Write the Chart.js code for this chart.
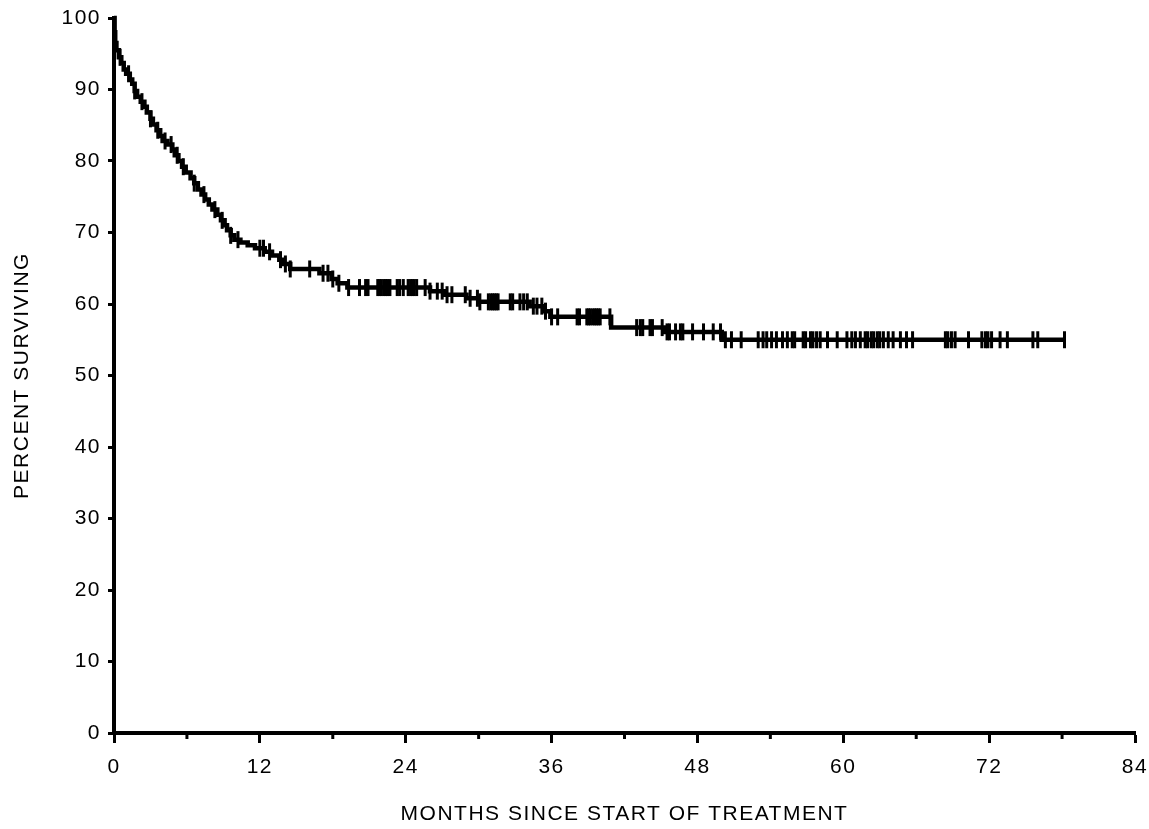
<!DOCTYPE html>
<html><head><meta charset="utf-8">
<script src="https://cdn.jsdelivr.net/npm/chart.js@4.4.1/dist/chart.umd.min.js"></script>
<style>html,body{margin:0;padding:0;background:#fff;}canvas{display:block;}</style>
</head><body>
<canvas id="c" width="1149" height="829"></canvas>
<script>
// Kaplan-Meier step data: month of each drop and survival (%) after it
const eventMonths = [0, 0.05, 0.1, 0.2, 0.4, 0.6, 0.8, 1.0, 1.3, 1.5, 1.7, 1.9, 2.2, 2.5, 2.7, 3.0, 3.2, 3.5, 3.8, 4.0,
  4.4, 4.8, 5.0, 5.3, 5.6, 5.9, 6.3, 6.6, 6.9, 7.2, 7.5, 7.8, 8.1, 8.5, 8.8, 9.1, 9.3, 9.6, 9.9, 10.4,
  11.0, 11.6, 12.4, 13.0, 13.6, 14.0, 14.5, 16.9, 17.9, 18.4, 19.2, 26.0, 27.2, 29.0, 30.0, 34.2, 35.4, 35.9,
  40.9, 45.3, 50.0];
const survivalPct = [100, 98, 96.5, 95.5, 94.5, 93.7, 92.8, 92.2, 91.4, 90.8, 89.8, 89.0, 88.3, 87.6, 86.8, 85.9, 85.1, 84.3, 83.5, 82.8,
  82.3, 81.6, 80.8, 80.0, 79.2, 78.4, 77.6, 76.9, 76.0, 75.3, 74.6, 73.9, 73.2, 72.5, 71.7, 71.0, 70.3, 69.6, 69.0, 68.6,
  68.2, 67.8, 67.3, 66.8, 66.2, 65.6, 64.9, 64.3, 63.5, 62.9, 62.3, 61.8, 61.3, 60.8, 60.3, 59.7, 59.0, 58.2,
  56.7, 56.1, 55.0];
const followUpEnd = 78.2;
// censored observations (months)
const censorMonths = [0.5, 1.2, 1.7, 2.3, 3.0, 3.6, 4.2, 4.7, 5.2, 5.7, 6.6, 7.4, 8.3, 8.9, 9.6, 10.2,
  12.0, 12.3, 12.8, 13.7, 14.1, 14.5, 16.1, 17.2, 17.6, 18.0, 18.5, 19.3, 20.2, 20.7, 20.9,
  21.7, 21.85, 22.0, 22.2, 22.35, 22.5, 22.7, 23.3, 23.5, 23.8, 24.2, 24.4, 24.55, 24.7, 24.9, 25.6, 26.0, 26.6, 27.0, 27.4, 27.8,
  28.9, 29.3, 29.9, 30.1, 30.8, 31.0, 31.15, 31.3, 31.45, 31.6, 32.6, 32.8, 33.4, 33.7, 34.0, 34.5, 34.8, 35.2, 35.5,
  36.0, 36.5, 38.1, 38.3, 38.9, 39.05, 39.2, 39.4, 39.55, 39.7, 39.85, 40.0, 40.8, 43.0, 43.3, 43.5, 44.1, 44.3, 45.1, 45.5, 45.7,
  46.2, 46.6, 46.8, 47.6, 48.5, 49.3, 49.9, 50.3, 50.8, 51.6, 53.0, 53.4, 53.7, 54.1, 54.5, 55.0, 55.4, 55.8,
  56.0, 56.7, 56.9, 57.3, 57.5, 57.8, 58.1, 58.7, 59.5, 60.3, 60.7, 61.0, 61.4, 61.8, 62.0, 62.3, 62.5, 62.8,
  63.0, 63.3, 63.7, 64.1, 64.7, 65.2, 65.7, 68.4, 68.6, 68.9, 69.2, 70.3, 71.4, 71.7, 71.9, 72.2, 72.9, 73.5,
  75.6, 76.0, 78.2];
const xMajorTicks = [0, 12, 24, 36, 48, 60, 72, 84];
const xMinorTicks = [6, 18, 30, 42, 54, 66, 78];
const yTicks = [0, 10, 20, 30, 40, 50, 60, 70, 80, 90, 100];
const xTitle = 'MONTHS SINCE START OF TREATMENT';
const yTitle = 'PERCENT SURVIVING';

function survivalAt(t) {
  let s = survivalPct[0];
  for (let i = 0; i < eventMonths.length; i++) if (eventMonths[i] <= t) s = survivalPct[i];
  return s;
}

const curvePoints = eventMonths.map((t, i) => ({x: t, y: survivalPct[i]}));
curvePoints.push({x: followUpEnd, y: survivalAt(followUpEnd)});
const censorPoints = censorMonths.map(t => ({x: t, y: survivalAt(t)}));

const FONT = {family: "'Liberation Sans', Arial, sans-serif", size: 21};

const spacingPlugin = {
  id: 'spacing',
  beforeUpdate(chart) { chart.ctx.letterSpacing = '1.5px'; },
  beforeDraw(chart) { chart.ctx.letterSpacing = '1.5px'; },
  afterDraw(chart) {
    const {ctx, scales: {x}} = chart;
    ctx.save();
    ctx.strokeStyle = '#000';
    ctx.lineWidth = 3;
    xMinorTicks.forEach(v => {
      const px = x.getPixelForValue(v);
      ctx.beginPath();
      ctx.moveTo(px, x.top);
      ctx.lineTo(px, x.top + 6);
      ctx.stroke();
    });
    ctx.restore();
  }
};

new Chart(document.getElementById('c'), {
  type: 'scatter',
  data: {
    datasets: [
      {data: curvePoints, showLine: true, stepped: true, borderColor: '#000', borderWidth: 4.5,
       pointRadius: 0, fill: false, clip: false, borderJoinStyle: 'miter'},
      {data: censorPoints, showLine: false, pointStyle: 'line', rotation: 90, pointRadius: 8.5,
       pointBorderWidth: 3, borderColor: '#000', backgroundColor: '#000', clip: false}
    ]
  },
  options: {
    responsive: false,
    animation: false,
    events: [],
    layout: {padding: {top: 18, right: 14, bottom: 0, left: 0}},
    plugins: {legend: {display: false}, tooltip: {enabled: false}},
    scales: {
      x: {
        type: 'linear', min: 0, max: 84,
        afterBuildTicks: s => { s.ticks = xMajorTicks.concat(xMinorTicks).sort((a, b) => a - b).map(v => ({value: v})); },
        afterFit: s => { s.height = 96; s.paddingLeft = 0; s.paddingRight = 0; },
        ticks: {autoSkip: false, maxRotation: 0, color: '#000', font: FONT, padding: 12,
          callback: v => xMajorTicks.includes(v) ? String(v) : ''},
        grid: {drawOnChartArea: false, tickLength: 10, tickWidth: 3,
          tickColor: c => (c.tick && xMajorTicks.includes(c.tick.value)) ? '#000' : 'rgba(0,0,0,0)'},
        border: {color: '#000', width: 4},
        title: {display: true, text: xTitle, color: '#000', font: FONT, padding: {top: 0, bottom: 2}}
      },
      y: {
        type: 'linear', min: 0, max: 100,
        afterBuildTicks: s => { s.ticks = yTicks.map(v => ({value: v})); },
        afterFit: s => { s.width = 114; s.paddingTop = 0; s.paddingBottom = 0; },
        ticks: {color: '#000', font: FONT, padding: 7},
        grid: {drawOnChartArea: false, tickLength: 6, tickWidth: 3, tickColor: '#000'},
        border: {color: '#000', width: 4},
        title: {display: true, text: yTitle, color: '#000', font: FONT, padding: {top: 10, bottom: 0}}
      }
    }
  },
  plugins: [spacingPlugin]
});
</script>
</body></html>
